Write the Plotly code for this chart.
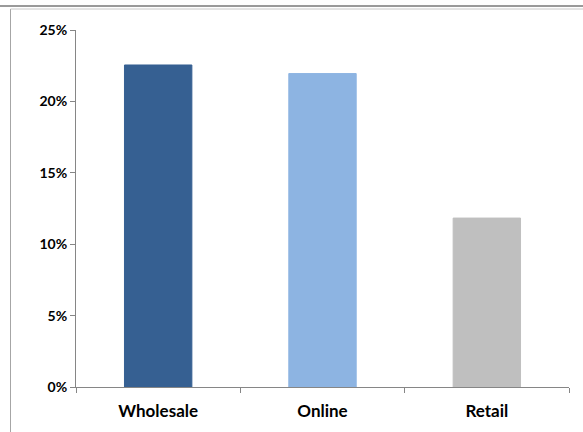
import plotly.graph_objects as go

categories = ["Wholesale", "Online", "Retail"]
values = [0.2255, 0.2195, 0.1183]
colors = ["#366092", "#8DB4E2", "#BFBFBF"]
tick_vals = [0, 0.05, 0.10, 0.15, 0.20, 0.25]
tick_text = ["0%", "5%", "10%", "15%", "20%", "25%"]

W, H = 583, 432
ml, mr, mt, mb = 76, 14, 30, 45
pw, ph = W - ml - mr, H - mt - mb

def px_x(x):
    return (x - ml) / pw

def px_y(y):
    return (H - mb - y) / ph

fig = go.Figure()
fig.add_trace(go.Bar(
    x=categories, y=values,
    marker=dict(color=colors, line=dict(color=colors, width=1)),
    width=0.41,
))

font_family = "Lato, Open Sans, sans-serif"
fig.update_layout(
    width=W, height=H,
    margin=dict(l=ml, r=mr, t=mt, b=mb, autoexpand=False),
    paper_bgcolor="white", plot_bgcolor="white",
    showlegend=False,
    font=dict(family=font_family, size=14, color="#000000"),
    shapes=[
        dict(type="line", xref="paper", yref="paper",
             x0=px_x(0), x1=px_x(W), y0=px_y(6), y1=px_y(6),
             line=dict(color="#9A9A9A", width=2)),
        dict(type="line", xref="paper", yref="paper",
             x0=px_x(10.5), x1=px_x(10.5), y0=px_y(9), y1=px_y(H),
             line=dict(color="#A6A6A6", width=1)),
        dict(type="line", xref="paper", yref="paper",
             x0=px_x(10.5), x1=px_x(W), y0=px_y(9), y1=px_y(9),
             line=dict(color="#C8C8C8", width=1)),
    ],
)
fig.update_xaxes(
    showline=True, linecolor="#868686", linewidth=1,
    ticks="outside", ticklen=5, tickcolor="#868686",
    tickson="boundaries", showgrid=False, automargin=False,
    tickfont=dict(family=font_family, size=17, color="#000000", weight="bold"),
    ticklabelstandoff=9,
    range=[-0.5, 2.5],
)
fig.update_yaxes(
    range=[0, 0.25], tickvals=tick_vals, ticktext=tick_text,
    showline=True, linecolor="#868686", linewidth=1,
    ticks="outside", ticklen=5, tickcolor="#868686",
    showgrid=False, zeroline=False, automargin=False,
    tickfont=dict(family=font_family, size=14, color="#000000", weight="bold"),
)
fig.write_html("out.html")
